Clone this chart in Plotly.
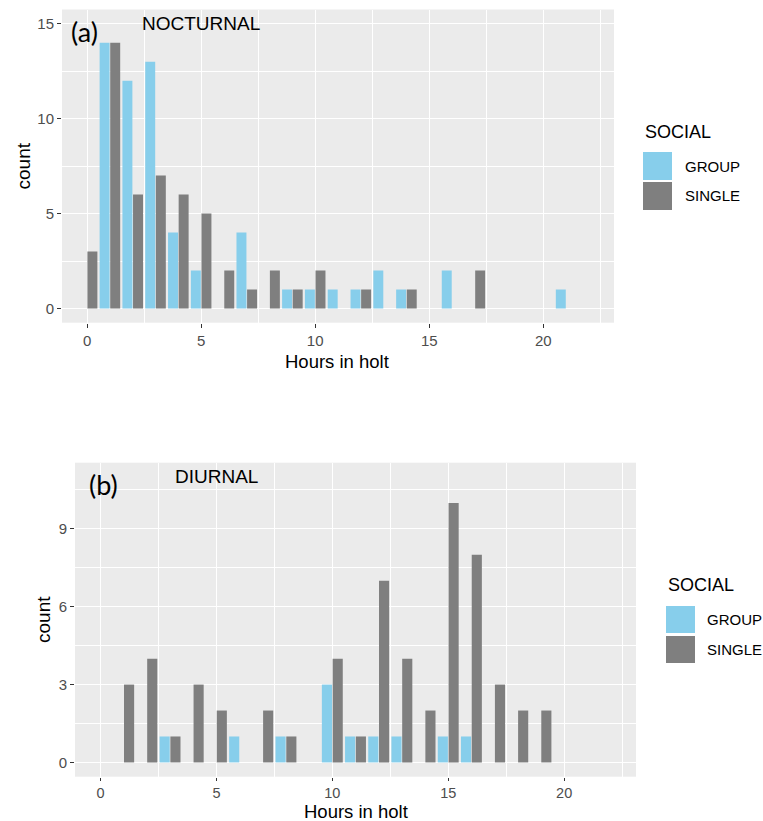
import plotly.graph_objects as go

W, H = 763, 821

# ---- data (counts per 1-hour bin) ----
bins_a = list(range(0, 22))
group_a = [0, 14, 12, 13, 4, 2, 0, 4, 0, 1, 1, 1, 1, 2, 1, 0, 2, 0, 0, 0, 0, 1]
single_a = [3, 14, 6, 7, 6, 5, 2, 1, 2, 1, 2, 0, 1, 0, 1, 0, 0, 2, 0, 0, 0, 0]

bins_b = list(range(0, 20))
group_b = [0, 0, 0, 1, 0, 0, 1, 0, 1, 0, 3, 1, 1, 1, 0, 1, 1, 0, 0, 0]
single_b = [0, 3, 4, 1, 3, 2, 0, 2, 1, 0, 4, 1, 7, 4, 2, 10, 8, 3, 2, 2]

x_ticks = [0, 5, 10, 15, 20]
y_ticks_a = [0, 5, 10, 15]
y_ticks_b = [0, 3, 6, 9]
series_names = ["GROUP", "SINGLE"]
colors = {"GROUP": "#87CEEB", "SINGLE": "#7F7F7F"}

FONT = "Liberation Sans"


def px_x(p):
    return p / W


def px_y(p):
    return 1 - p / H


fig = go.Figure()
for name, vals in zip(series_names, [group_a, single_a]):
    fig.add_trace(go.Bar(x=bins_a, y=vals, name=name, marker_color=colors[name],
                         marker_line_width=0, xaxis="x", yaxis="y",
                         offsetgroup=name, showlegend=False))
for name, vals in zip(series_names, [group_b, single_b]):
    fig.add_trace(go.Bar(x=bins_b, y=vals, name=name, marker_color=colors[name],
                         marker_line_width=0, xaxis="x2", yaxis="y2",
                         offsetgroup=name, showlegend=False))


def tickfont(size=15):
    return dict(family=FONT, size=size, color="#4D4D4D")


def xax(domain, anchor, tlen=4, fsize=15):
    return dict(domain=domain, anchor=anchor, range=[-1.1, 23.1],
                tickvals=x_ticks, ticks="outside", ticklen=tlen, tickwidth=1.1,
                tickcolor="#333333", tickfont=tickfont(fsize), showgrid=True,
                gridcolor="white", gridwidth=1.3, zeroline=False, showline=False,
                automargin=False, fixedrange=True,
                minor=dict(dtick=2.5, tick0=0, showgrid=True, gridcolor="white",
                           gridwidth=0.6, ticks=""))


def yax(domain, anchor, rng, tv, mdt):
    return dict(domain=domain, anchor=anchor, range=rng, tickvals=tv,
                ticks="outside", ticklen=4, tickwidth=1.1, tickcolor="#333333",
                tickfont=tickfont(15), showgrid=True, gridcolor="white", gridwidth=1.3,
                zeroline=False, showline=False, automargin=False, fixedrange=True,
                minor=dict(dtick=mdt, tick0=0, showgrid=True, gridcolor="white",
                           gridwidth=0.6, ticks=""))


fig.update_layout(
    width=W, height=H,
    margin=dict(l=0, r=0, t=0, b=0),
    paper_bgcolor="white", plot_bgcolor="#EBEBEB",
    barmode="group", bargap=0.07, bargroupgap=0.06,
    xaxis=xax([px_x(62), px_x(614)], "y"),
    yaxis=yax([px_y(322.7), px_y(9.5)], "x", [-0.75, 15.75], y_ticks_a, 2.5),
    xaxis2=xax([px_x(75), px_x(636)], "y2", tlen=3, fsize=14.5),
    yaxis2=yax([px_y(776.7), px_y(462.7)], "x2", [-0.55, 11.55], y_ticks_b, 1.5),
    showlegend=False,
)

ann = []
# in-panel labels
ann.append(dict(x=5, y=15, xref="x", yref="y", text="NOCTURNAL", showarrow=False,
                font=dict(family=FONT, size=19, color="black"),
                xanchor="center", yanchor="middle"))
ann.append(dict(x=5, y=11, xref="x2", yref="y2", text="DIURNAL", showarrow=False,
                font=dict(family=FONT, size=19, color="black"),
                xanchor="center", yanchor="middle"))
ann.append(dict(x=px_x(84), y=px_y(31), xref="paper", yref="paper", text="(a)",
                showarrow=False, font=dict(family="Lato", size=27, color="black"),
                xanchor="center", yanchor="middle"))
ann.append(dict(x=px_x(103.5), y=px_y(484), xref="paper", yref="paper", text="(b)",
                showarrow=False, font=dict(family="Lato", size=27, color="black"),
                xanchor="center", yanchor="middle"))
# axis titles
for (cx, cy) in [(22.5, 166), (43, 620)]:
    ann.append(dict(x=px_x(cx), y=px_y(cy), xref="paper", yref="paper", text="count",
                    textangle=-90, showarrow=False,
                    font=dict(family=FONT, size=19, color="black"),
                    xanchor="center", yanchor="middle"))
for (cx, cy) in [(337, 361), (355.5, 811)]:
    ann.append(dict(x=px_x(cx), y=px_y(cy), xref="paper", yref="paper",
                    text="Hours in holt", showarrow=False,
                    font=dict(family=FONT, size=18.5, color="black"),
                    xanchor="center", yanchor="middle", borderpad=0))

# legends (drawn as keys + text)
shapes = []
legends = [
    dict(x=643, title_y=132, keys=[(152, 180), (182, 210)], lab_x=683),
    dict(x=666, title_y=585, keys=[(606, 633), (636, 663)], lab_x=705),
]
for lg in legends:
    ann.append(dict(x=px_x(lg["x"]), y=px_y(lg["title_y"]), xref="paper", yref="paper",
                    text="SOCIAL", showarrow=False,
                    font=dict(family=FONT, size=18, color="black"),
                    xanchor="left", yanchor="middle"))
    for name, (y0, y1) in zip(series_names, lg["keys"]):
        shapes.append(dict(type="rect", xref="paper", yref="paper",
                           x0=px_x(lg["x"]), x1=px_x(lg["x"] + 29),
                           y0=px_y(y1), y1=px_y(y0),
                           fillcolor=colors[name], line=dict(width=0)))
        ann.append(dict(x=px_x(lg["lab_x"]), y=px_y((y0 + y1) / 2), xref="paper",
                        yref="paper", text=name, showarrow=False,
                        font=dict(family=FONT, size=15, color="black"),
                        xanchor="left", yanchor="middle"))

fig.update_layout(annotations=ann, shapes=shapes)
fig.write_html("out.html")
